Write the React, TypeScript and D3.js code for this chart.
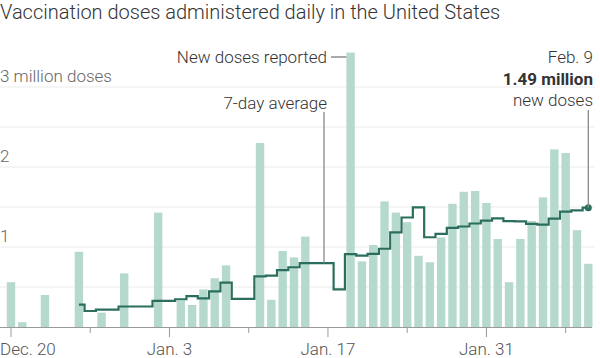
import React, { useEffect, useRef } from 'react';
import * as d3 from 'd3';

// Daily doses reported, millions, starting Dec. 20, 2020
const startDate = new Date(2020, 11, 20);
const dailyDoses: number[] = [
  0.56, 0.06, 0, 0.4, 0, 0, 0.94, 0, 0.18, 0, 0.67, 0, 0, 1.43, 0, 0.33, 0.275,
  0.47, 0.61, 0.77, 0, 0, 2.3, 0.34, 0.95, 0.87, 1.13, 0, 0, 0, 3.43, 0.82,
  1.025, 1.57, 1.43, 1.31, 0.89, 0.81, 1.12, 1.54, 1.69, 1.7, 1.55, 1.1, 0.56,
  1.1, 1.325, 1.62, 2.22, 2.175, 1.21, 0.79,
];

// 7-day average, millions, starting Dec. 26, 2020
const avgStart = new Date(2020, 11, 26);
const sevenDayAvg: number[] = [
  0.28, 0.2, 0.217, 0.217, 0.256, 0.256, 0.256, 0.326, 0.326, 0.347, 0.386,
  0.358, 0.445, 0.555, 0.351, 0.351, 0.632, 0.641, 0.71, 0.747, 0.799, 0.799,
  0.799, 0.47, 0.911, 0.893, 0.915, 0.978, 1.182, 1.369, 1.496, 1.122, 1.165,
  1.239, 1.256, 1.294, 1.329, 1.359, 1.323, 1.32, 1.289, 1.279, 1.354, 1.443,
  1.459, 1.491,
];

const yTicks = [1, 2, 3];
const yGrid = [0.5, 1, 1.5, 2, 2.5, 3];
const xLabels = ['Dec. 20', 'Jan. 3', 'Jan. 17', 'Jan. 31'];

const FONT = 'Roboto, "Liberation Sans", sans-serif';

const App: React.FC = () => {
  const svgRef = useRef<SVGSVGElement | null>(null);

  useEffect(() => {
    if (!svgRef.current) return;

    const days = dailyDoses.map((v, i) => ({ date: d3.timeDay.offset(startDate, i), value: v }));
    const avg = sevenDayAvg.map((v, i) => ({ date: d3.timeDay.offset(avgStart, i), value: v }));
    const lastDate = days[days.length - 1].date;

    const x = d3.scaleTime().domain([startDate, lastDate]).range([11, 588.3]);
    const y = d3.scaleLinear().domain([0, 3]).range([327, 87]);
    const barW = 8.4;

    const svg = d3.select(svgRef.current);
    svg.selectAll('*').remove();

    // Title
    svg
      .append('text')
      .attr('x', 0)
      .attr('y', 18.5)
      .attr('font-family', FONT)
      .attr('font-weight', 300)
      .attr('font-size', '20px')
      .attr('fill', '#333')
      .text('Vaccination doses administered daily in the United States');

    // Grid lines
    svg
      .append('g')
      .selectAll('line')
      .data(yGrid)
      .join('line')
      .attr('x1', 0)
      .attr('x2', 595)
      .attr('y1', (d) => y(d))
      .attr('y2', (d) => y(d))
      .attr('stroke', '#ebebeb')
      .attr('stroke-width', 1);

    // Y labels
    svg
      .append('g')
      .selectAll('text')
      .data(yTicks)
      .join('text')
      .attr('x', 0)
      .attr('y', (d) => y(d) - 5)
      .attr('font-family', FONT)
      .attr('font-weight', 300)
      .attr('font-size', '17px')
      .attr('fill', '#666')
      .text((d) => (d === 3 ? '3 million doses' : String(d)));

    // Bars
    svg
      .append('g')
      .selectAll('rect')
      .data(days.filter((d) => d.value > 0))
      .join('rect')
      .attr('x', (d) => x(d.date) - barW / 2)
      .attr('y', (d) => y(d.value))
      .attr('width', barW)
      .attr('height', (d) => y(0) - y(d.value))
      .attr('fill', '#b5d9cd');

    // X axis baseline and ticks
    svg
      .append('line')
      .attr('x1', 0)
      .attr('x2', 592)
      .attr('y1', y(0) + 0.5)
      .attr('y2', y(0) + 0.5)
      .attr('stroke', '#999')
      .attr('stroke-width', 1.2);

    const weekTicks = d3.timeDay.range(startDate, d3.timeDay.offset(lastDate, 1), 7);
    svg
      .append('g')
      .selectAll('line')
      .data(weekTicks)
      .join('line')
      .attr('x1', (d) => x(d))
      .attr('x2', (d) => x(d))
      .attr('y1', y(0))
      .attr('y2', (d, i) => y(0) + (i % 2 === 0 ? 10 : 6))
      .attr('stroke', '#999')
      .attr('stroke-width', 1);

    const labelDates = weekTicks.filter((_, i) => i % 2 === 0);
    svg
      .append('g')
      .selectAll('text')
      .data(labelDates)
      .join('text')
      .attr('x', (d, i) => (i === 0 ? 0 : x(d)))
      .attr('y', 355)
      .attr('text-anchor', (d, i) => (i === 0 ? 'start' : 'middle'))
      .attr('font-family', FONT)
      .attr('font-weight', 300)
      .attr('font-size', '17px')
      .attr('fill', '#555')
      .text((d, i) => xLabels[i]);

    // 7-day average step line
    const line = d3
      .line<{ date: Date; value: number }>()
      .x((d) => x(d.date))
      .y((d) => y(d.value))
      .curve(d3.curveStep);

    svg
      .append('path')
      .datum(avg)
      .attr('d', line)
      .attr('fill', 'none')
      .attr('stroke', '#2b6e5d')
      .attr('stroke-width', 2.2);

    const lastAvg = avg[avg.length - 1];
    svg
      .append('circle')
      .attr('cx', x(lastAvg.date))
      .attr('cy', y(lastAvg.value))
      .attr('r', 3.5)
      .attr('fill', '#2b6e5d');

    // Annotation: new doses reported
    const tallest = days.reduce((a, b) => (b.value > a.value ? b : a));
    const ndY = 57;
    svg
      .append('line')
      .attr('x1', 331)
      .attr('x2', x(tallest.date) - barW / 2)
      .attr('y1', ndY)
      .attr('y2', ndY)
      .attr('stroke', '#555')
      .attr('stroke-width', 1);
    svg
      .append('text')
      .attr('x', 327)
      .attr('y', ndY + 6)
      .attr('text-anchor', 'end')
      .attr('font-family', FONT)
      .attr('font-weight', 300)
      .attr('font-size', '17px')
      .attr('fill', '#333')
      .text('New doses reported');

    // Annotation: 7-day average
    const jan17 = avg.find((d) => d.date.getTime() === new Date(2021, 0, 17).getTime())!;
    svg
      .append('line')
      .attr('x1', 324)
      .attr('x2', 324)
      .attr('y1', 112)
      .attr('y2', y(jan17.value))
      .attr('stroke', '#888')
      .attr('stroke-width', 1.3);
    svg
      .append('text')
      .attr('x', 327)
      .attr('y', 109)
      .attr('text-anchor', 'end')
      .attr('font-family', FONT)
      .attr('font-weight', 300)
      .attr('font-size', '17px')
      .attr('fill', '#333')
      .text('7-day average');

    // Annotation: Feb. 9
    const ax = x(lastAvg.date);
    svg
      .append('line')
      .attr('x1', ax)
      .attr('x2', ax)
      .attr('y1', 110)
      .attr('y2', y(lastAvg.value))
      .attr('stroke', '#888')
      .attr('stroke-width', 1.3);
    const notes = [
      { text: 'Feb. 9', y: 63, weight: 300 },
      { text: `${lastAvg.value.toFixed(2)} million`, y: 85, weight: 700 },
      { text: 'new doses', y: 106, weight: 300 },
    ];
    svg
      .append('g')
      .selectAll('text')
      .data(notes)
      .join('text')
      .attr('x', 593)
      .attr('y', (d) => d.y)
      .attr('text-anchor', 'end')
      .attr('font-family', FONT)
      .attr('font-weight', (d) => d.weight)
      .attr('font-size', '17px')
      .attr('fill', '#333')
      .text((d) => d.text);
  }, []);

  return (
    <svg
      ref={svgRef}
      width={600}
      height={358}
      style={{ position: 'absolute', left: 0, top: 0, background: '#fff' }}
    />
  );
};

export default App;
